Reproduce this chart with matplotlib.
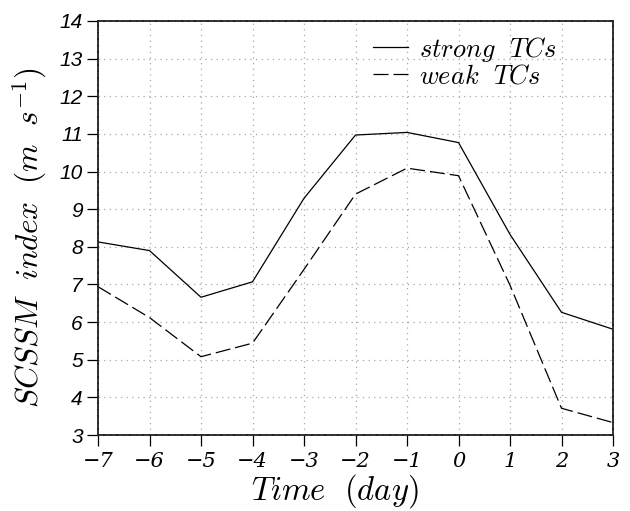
import matplotlib
matplotlib.use("Agg")
import matplotlib.pyplot as plt
import numpy as np

plt.rcParams['mathtext.fontset'] = 'cm'

days = [-7, -6, -5, -4, -3, -2, -1, 0, 1, 2, 3]
strong = [8.13, 7.90, 6.66, 7.07, 9.29, 10.97, 11.04, 10.77, 8.33, 6.26, 5.81]
weak = [6.94, 6.12, 5.08, 5.44, 7.40, 9.40, 10.09, 9.89, 6.98, 3.71, 3.33]
xticks = list(range(-7, 4))
yticks = list(range(3, 15))

fig = plt.figure(figsize=(6.3, 5.11), dpi=100)
ax = fig.add_axes([98/630, 1-435/511, (613-98)/630, (435-21)/511])

ax.plot(days, strong, color='black', lw=0.9, label=r'$strong\ \ TCs$')
ax.plot(days, weak, color='black', lw=0.9, dashes=[12, 4], label=r'$weak\ \ TCs$')

ax.set_xlim(-7, 3)
ax.set_ylim(3, 14)
ax.set_xticks(xticks)
ax.set_yticks(yticks)
ax.set_xticklabels([str(v).replace('-', '\u2212') for v in xticks],
                   family='DejaVu Serif', style='italic', fontsize=15)
ax.set_yticklabels([str(v) for v in yticks], family='Liberation Sans',
                   style='italic', fontsize=15)
ax.tick_params(direction='out', length=8, width=0.9, color='black', pad=3)
ax.tick_params(axis='x', pad=4)

ax.grid(True, color='#a8a8a8', linestyle=(0, (1, 3.5)), lw=0.9)
for s in ax.spines.values():
    s.set_linestyle((0, (3, 0.6)))
    s.set_linewidth(1.3)
    s.set_color('#222222')

fig.text(335/630, 1-491/511, r'$Time\ \ (day)$', fontsize=23.5,
         ha='center', va='center')
fig.text(30/630, 1-238/511, r'$SCSSM\ \ index\ \ (m\ \ s^{-1})$',
         fontsize=22.5, rotation=90, ha='center', va='center')

leg = ax.legend(loc='upper left', bbox_to_anchor=((362-98)/515, 1-(24-21)/414),
                frameon=False, fontsize=19, handlelength=1.35, handletextpad=0.4,
                labelspacing=-0.02, borderaxespad=0)

fig.savefig('out.png', dpi=100)
